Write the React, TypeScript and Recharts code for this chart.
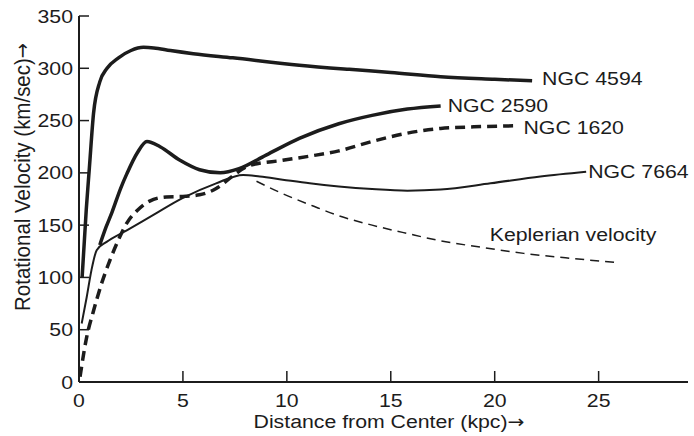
import { LineChart, Line, XAxis, YAxis } from "recharts";

// values (distance in kpc, velocity in km/sec)
const ngc4594X = [0.15, 0.35, 0.5, 0.7, 1.0, 1.35, 1.9, 2.5, 3.1, 3.6, 4.4, 5.5, 7.4, 10.6, 13, 15, 17.4, 20, 21.8];
const ngc4594V = [100, 165, 205, 257, 287, 300, 310, 317, 320, 319.5, 317, 314, 310, 303, 299, 296, 292, 289.5, 288];

const ngc2590X = [1.0, 1.3, 1.6, 2.0, 2.3, 2.8, 3.27, 3.9, 4.86, 5.8, 6.8, 7.7, 9, 10.6, 12.5, 14.1, 15.8, 17.4];
const ngc2590V = [131, 148, 163, 185, 199, 219, 230, 225, 212, 203, 200, 204, 217, 233, 247, 255, 261, 264];

const ngc1620X = [0.05, 0.37, 0.67, 1.1, 1.5, 1.9, 2.3, 2.8, 3.4, 4.2, 5.0, 5.8, 6.6, 7.4, 8.2, 9.8, 11.1, 12.5, 14.1, 15.8, 17.4, 19, 21];
const ngc1620V = [5, 43, 66, 95, 117, 136, 152, 164, 173, 177, 177.5, 179, 185, 197, 207, 212, 216, 221, 230, 238, 242.5, 244, 245];

const ngc7664X = [0.13, 0.37, 0.6, 0.85, 1.33, 2.3, 3.6, 5, 6.6, 7.9, 8.7, 9.8, 11.1, 12.5, 14.1, 15.8, 17.4, 19.8, 22.2, 24.4];
const ngc7664V = [56, 81, 107, 126, 134, 145, 160, 176, 190, 198, 196.5, 193.5, 190, 187, 184.5, 183, 184, 190, 196.5, 201];

const keplerX = [8.54, 9.7, 11.3, 12.5, 14.1, 15.8, 17.4, 19.3, 21.4, 23.8, 26];
const keplerV = [192, 181, 168, 159, 150, 142, 135, 129, 123, 118, 114];

const xTicks = [0, 5, 10, 15, 20, 25];
const yTicks = [0, 50, 100, 150, 200, 250, 300, 350];

const toRows = (xs: number[], vs: number[]) => xs.map((x, i) => ({ x, v: vs[i] }));

const FONT = "'Liberation Sans', Arial, Helvetica, sans-serif";
const INK = "#1c1c1c";

function Txt({ x, y, anchor = "start", size = 19, children }: any) {
  return (
    <g transform={`translate(${x},${y}) scale(1.12,1)`}>
      <text x={0} y={0} textAnchor={anchor} dominantBaseline="central" fontFamily={FONT} fontSize={size} fill={INK}>
        {children}
      </text>
    </g>
  );
}

const Arrow = () => (
  <tspan fontFamily="'DejaVu Sans', sans-serif" fontSize={18}>
    →
  </tspan>
);

function XTick({ x, payload }: any) {
  return (
    <g>
      <line x1={x} x2={x} y1={382} y2={371} stroke={INK} strokeWidth={1.5} />
      <Txt x={x} y={400} anchor="middle">{payload.value}</Txt>
    </g>
  );
}

function YTick({ y, payload }: any) {
  return (
    <g>
      <line x1={79} x2={89} y1={y} y2={y} stroke={INK} strokeWidth={1.5} />
      <Txt x={73} y={y} anchor="end">{payload.value}</Txt>
    </g>
  );
}

const endLabel = (text: string, n: number, dx: number, dy: number, anchor = "start") => (p: any) => {
  if (p.index !== n - 1) return <g key={p.index} />;
  return (
    <Txt key={p.index} x={p.x + dx} y={p.y + dy} anchor={anchor}>
      {text}
    </Txt>
  );
};

export default function App() {
  return (
    <div style={{ position: "absolute", left: 0, top: 0, background: "#fff" }}>
      <LineChart width={694} height={436} margin={{ top: 16, right: 6, left: 0, bottom: 0 }}>
        <XAxis
          dataKey="x"
          type="number"
          domain={[0, 29.3]}
          ticks={xTicks}
          allowDuplicatedCategory={false}
          height={54}
          axisLine={{ stroke: INK, strokeWidth: 2 }}
          tickLine={false}
          tick={<XTick />}
          label={{
            content: () => (
              <Txt x={389} y={421} anchor="middle">
                Distance from Center (kpc)<Arrow />
              </Txt>
            ),
          }}
        />
        <YAxis
          type="number"
          domain={[0, 350]}
          ticks={yTicks}
          width={79}
          axisLine={{ stroke: INK, strokeWidth: 2 }}
          tickLine={false}
          tick={<YTick />}
          label={{
            content: () => (
              <g transform="translate(22,177) rotate(-90) scale(1,1.12)">
                <text
                  x={0}
                  y={0}
                  textAnchor="middle"
                  dominantBaseline="central"
                  fontFamily={FONT}
                  fontSize={20.5}
                  fill={INK}
                >
                  Rotational Velocity (km/sec)<Arrow />
                </text>
              </g>
            ),
          }}
        />
        <Line
          data={toRows(ngc4594X, ngc4594V)}
          dataKey="v"
          type="monotone"
          stroke={INK}
          strokeWidth={3.5}
          dot={false}
          isAnimationActive={false}
          label={endLabel("NGC 4594", ngc4594X.length, 10, -2)}
        />
        <Line
          data={toRows(ngc2590X, ngc2590V)}
          dataKey="v"
          type="monotone"
          stroke={INK}
          strokeWidth={3.5}
          dot={false}
          isAnimationActive={false}
          label={endLabel("NGC 2590", ngc2590X.length, 7, -1)}
        />
        <Line
          data={toRows(ngc1620X, ngc1620V)}
          dataKey="v"
          type="monotone"
          stroke={INK}
          strokeWidth={3.5}
          strokeDasharray="10 6"
          dot={false}
          isAnimationActive={false}
          label={endLabel("NGC 1620", ngc1620X.length, 8, 2)}
        />
        <Line
          data={toRows(ngc7664X, ngc7664V)}
          dataKey="v"
          type="monotone"
          stroke={INK}
          strokeWidth={2}
          dot={false}
          isAnimationActive={false}
          label={endLabel("NGC 7664", ngc7664X.length, 2, 0)}
        />
        <Line
          data={toRows(keplerX, keplerV)}
          dataKey="v"
          type="monotone"
          stroke={INK}
          strokeWidth={1.5}
          strokeDasharray="9 6"
          dot={false}
          isAnimationActive={false}
          label={endLabel("Keplerian velocity", keplerX.length, 37, -28, "end")}
        />
      </LineChart>
    </div>
  );
}
